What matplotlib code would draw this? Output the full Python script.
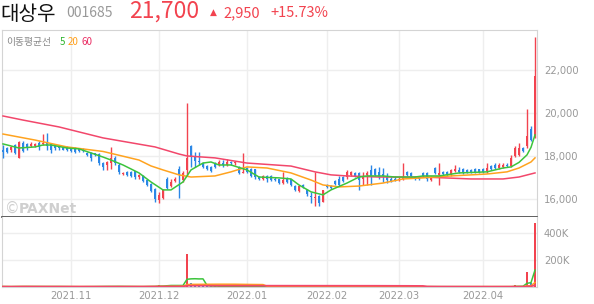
import numpy as np
import pandas as pd
import matplotlib
matplotlib.use("Agg")
import matplotlib.pyplot as plt

# ---- data (daily candles, index 0 .. 133) ----
opens = [18300, 18350, 18300, 18500, 17900, 18600, 18550, 18450, 18450, 18600,
         18550, 18600, 18550, 18450, 18450, 18400, 18400, 18350, 18350, 18350,
         18300, 18150, 18150, 18150, 18100, 17650, 17600, 17650, 17900, 17600,
         17150, 17250, 17250, 17300, 17000, 17050, 16900, 16700, 16450, 15950,
         16050, 16950, 16600, 16850, 17400, 16900, 17350, 18450, 17950, 17750,
         17650, 17550, 17500, 17650, 17600, 17650, 17600, 17700, 17650, 17500,
         17200, 17450, 17400, 17400, 17000, 16950, 17050, 17050, 16950, 16950,
         16750, 16950, 16950, 16600, 16350, 16650, 16400, 16150, 16050, 16150,
         15850, 16650, 16600, 16850, 16950, 17000, 17000, 17100, 17200, 17200,
         16950, 17100, 17350, 17400, 17250, 17150, 17000, 16950, 16950, 16900,
         16950, 17250, 17200, 17000, 17000, 17200, 17200, 16900, 17450, 17100,
         17250, 17250, 17100, 17300, 17350, 17400, 17350, 17350, 17400, 17400,
         17400, 17300, 17550, 17600, 17450, 17500, 17600, 17550, 18000, 18050,
         18350, 18450, 19250, 18900]
highs = [18500, 18400, 18450, 18550, 18700, 18700, 18600, 18650, 18600, 18700,
         19000, 19050, 18600, 18500, 18450, 18450, 18450, 18400, 18400, 18350,
         18350, 18200, 18200, 18150, 18150, 17700, 17750, 18400, 18000, 17650,
         17250, 17300, 17300, 17300, 17150, 17100, 16950, 16750, 16500, 16300,
         16450, 17000, 16950, 17000, 17550, 17300, 20450, 18500, 18200, 18200,
         17700, 17600, 17550, 17700, 17800, 17800, 17850, 17750, 17750, 17550,
         18150, 17500, 17450, 17400, 17050, 17100, 17100, 17100, 17000, 16950,
         17250, 17000, 16950, 16650, 16650, 16700, 16450, 16300, 17250, 16200,
         16400, 16700, 16650, 16900, 17050, 17050, 17350, 17300, 17250, 17250,
         17250, 17300, 17600, 17450, 17500, 17450, 17200, 17000, 17050, 17000,
         17650, 17300, 17250, 17050, 17050, 17250, 17250, 17050, 17500, 17650,
         17300, 17300, 17400, 17600, 17500, 17450, 17400, 17400, 17450, 17400,
         17450, 17650, 17600, 17650, 17650, 17650, 17650, 18050, 18450, 18600,
         18400, 20200, 19400, 23550]
lows = [17900, 18150, 18200, 18100, 17900, 18200, 18300, 18400, 18400, 18300,
        18500, 18300, 18150, 18300, 18300, 18300, 18250, 18200, 18150, 18200,
        18200, 18000, 17750, 18000, 17600, 17350, 17350, 17400, 17600, 17150,
        17100, 17050, 17000, 16950, 16950, 16800, 16600, 16300, 15850, 15800,
        16000, 16450, 16550, 16800, 16050, 16800, 17050, 17500, 17500, 17600,
        17450, 17350, 17250, 17450, 17550, 17500, 17550, 17600, 17600, 17150,
        17200, 17200, 17000, 16950, 16900, 16900, 16800, 16850, 16850, 16700,
        16700, 16750, 16600, 16350, 16300, 16500, 16150, 15800, 15650, 15650,
        15850, 16500, 16450, 16650, 16600, 16800, 16950, 17050, 17000, 16400,
        16650, 16650, 16650, 17050, 16950, 16800, 16750, 16800, 16850, 16850,
        16900, 17050, 17000, 16900, 16900, 17000, 16850, 16850, 17150, 16650,
        17100, 17050, 17050, 17250, 17200, 17150, 17200, 17200, 17200, 17200,
        17200, 17200, 17350, 17400, 17400, 17450, 17500, 17500, 17950, 18000,
        18200, 18350, 18700, 18850]
closes = [18200, 18200, 18400, 18150, 18650, 18250, 18350, 18550, 18550, 18400,
          18600, 18450, 18300, 18350, 18350, 18300, 18300, 18250, 18200, 18250,
          18250, 18050, 17900, 18050, 17650, 17500, 17700, 17900, 17650, 17250,
          17200, 17100, 17050, 17000, 17100, 16850, 16650, 16350, 16000, 16200,
          16400, 16500, 16800, 16950, 17150, 17200, 17900, 17950, 17750, 17700,
          17500, 17400, 17300, 17500, 17700, 17600, 17700, 17650, 17700, 17200,
          17250, 17250, 17050, 17000, 16950, 17050, 16950, 16900, 16900, 16750,
          16900, 16800, 16650, 16400, 16600, 16550, 16250, 16100, 16100, 15800,
          16400, 16550, 16500, 16700, 16650, 16850, 17250, 17250, 17050, 16900,
          17000, 17200, 17000, 17100, 17000, 17050, 16900, 16800, 16900, 16950,
          17000, 17100, 17050, 16950, 16950, 17050, 16950, 17000, 17200, 17200,
          17150, 17100, 17350, 17400, 17250, 17200, 17250, 17250, 17250, 17250,
          17250, 17450, 17400, 17450, 17600, 17600, 17550, 17900, 18350, 18350,
          18250, 18950, 18750, 21700]
volume_k = [3, 2, 3, 4, 5, 3, 2, 2, 2, 3,
            4, 5, 3, 2, 2, 2, 2, 2, 2, 2,
            2, 3, 4, 3, 5, 4, 3, 6, 4, 4,
            2, 2, 3, 3, 2, 3, 4, 5, 6, 15,
            5, 15, 15, 5, 15, 6, 245, 30, 10, 8,
            8, 6, 6, 5, 4, 4, 3, 3, 3, 4,
            5, 3, 3, 4, 2, 2, 2, 2, 2, 3,
            4, 2, 3, 4, 4, 2, 4, 4, 6, 5,
            6, 3, 2, 3, 3, 2, 3, 2, 2, 3,
            2, 2, 3, 2, 2, 2, 2, 2, 2, 2,
            3, 2, 2, 2, 2, 2, 2, 2, 3, 3,
            2, 2, 3, 2, 2, 2, 2, 2, 2, 2,
            2, 3, 2, 2, 2, 2, 2, 3, 12, 6,
            4, 110, 30, 475]

# moving average lines as drawn on the chart (candle index, price)
ma5_idx = [0, 4, 8, 10, 12, 16, 19, 22, 25, 27, 30, 34, 37, 40, 42, 45, 47, 50, 52, 54,
           57, 61, 64, 69, 72, 74, 77, 80, 82, 86, 89, 91, 95, 98, 103, 105, 109, 114,
           121, 125, 127, 129, 131, 132, 133]
ma5_val = [18560, 18370, 18420, 18510, 18510, 18370, 18330, 18140, 17950, 17810, 17580,
           17210, 16790, 16420, 16420, 16790, 17350, 17670, 17720, 17580, 17580, 17350,
           17020, 16980, 16930, 16650, 16330, 16190, 16420, 16740, 17020, 17070, 17070,
           17020, 17020, 17070, 17070, 17210, 17260, 17440, 17490, 17700, 18050, 18400,
           18980]
ma20_idx = [0, 8, 16, 25, 34, 37, 40, 44, 47, 53, 57, 61, 66, 72, 77, 80, 84, 89, 95,
            100, 105, 112, 121, 126, 129, 132, 133]
ma20_val = [19020, 18740, 18420, 18210, 17810, 17535, 17350, 17120, 17020, 17070, 17260,
            17490, 17440, 17210, 16880, 16650, 16560, 16600, 16740, 16930, 16980, 17070,
            17160, 17260, 17440, 17720, 17910]
ma60_idx = [0, 5, 14, 25, 38, 44, 46, 53, 61, 72, 78, 82, 86, 94, 105, 117, 125, 129, 133]
ma60_val = [19860, 19670, 19350, 18840, 18420, 18090, 18000, 17910, 17670, 17530, 17260,
            17120, 17070, 17020, 17020, 16930, 16930, 17020, 17210]

month_idx = [17, 39, 61, 81, 99, 120]
month_labels = ["2021.11", "2021.12", "2022.01", "2022.02", "2022.03", "2022.04"]
price_ticks = [16000, 18000, 20000, 22000]
vol_ticks = [200000, 400000]
vol_tick_labels = ["200K", "400K"]

RED = "#f2434f"
BLUE = "#2b87e6"
GREEN = "#3cc43c"
ORANGE = "#ffa31f"
PINK = "#f2476b"
GRID = "#eeeeee"
LABEL = "#999999"
CJK = ["Noto Sans CJK KR", "DejaVu Sans"]

o = np.array(opens)
h = np.array(highs)
l = np.array(lows)
c = np.array(closes)
vol = pd.Series(volume_k) * 1000
x = np.arange(len(o))
up = c >= o

W, H = 594, 304
fig = plt.figure(figsize=(W / 100, H / 100), dpi=100)
ax = fig.add_axes([2 / W, 1 - 217 / H, 535 / W, 187 / H])
axv = fig.add_axes([2 / W, 1 - 287 / H, 535 / W, 70 / H])

# --- price panel ---
cols = np.where(up, RED, BLUE)
ax.vlines(x, l, h, colors=cols, linewidth=1, zorder=3)
body_lo = np.minimum(o, c)
body_h = np.maximum(np.abs(c - o), 45)
ax.bar(x, body_h, bottom=body_lo, width=0.72, color=cols, linewidth=0, zorder=4)
ax.plot(ma60_idx, ma60_val, color=PINK, lw=1.1, zorder=5)
ax.plot(ma20_idx, ma20_val, color=ORANGE, lw=1.1, zorder=5)
ax.plot(ma5_idx, ma5_val, color=GREEN, lw=1.1, zorder=6)

ax.set_xlim(-0.25, 133.5)
ax.set_ylim(15160, 23860)
ax.set_xticks(month_idx)
ax.set_xticklabels([])
ax.set_yticks(price_ticks)
ax.set_yticklabels([f"{v:,}" for v in price_ticks])
ax.yaxis.tick_right()
ax.tick_params(length=0, labelsize=7.2, labelcolor=LABEL, pad=5)
ax.grid(True, color=GRID, lw=1)
ax.set_axisbelow(True)
for s in ["top", "left", "right"]:
    ax.spines[s].set_color("#d4d4d4")
ax.spines["bottom"].set_color("#444444")
ax.spines["bottom"].set_linewidth(1.2)

# --- volume panel ---
axv.bar(x, vol, width=0.72, color=cols, linewidth=0, zorder=3)
# pink (60) sits on top along the baseline, like the reference
axv.plot(x, vol.rolling(5, min_periods=1).mean(), color=GREEN, lw=1.1, zorder=4)
axv.plot(x, vol.rolling(20, min_periods=1).mean(), color=ORANGE, lw=1.1, zorder=5)
axv.plot(x, vol.rolling(60, min_periods=1).mean(), color=PINK, lw=1.3, zorder=6)
axv.set_xlim(-0.25, 133.5)
axv.set_ylim(0, 518000)
axv.set_yticks(vol_ticks)
axv.set_yticklabels(vol_tick_labels)
axv.yaxis.tick_right()
axv.set_xticks(month_idx)
axv.set_xticklabels(month_labels)
axv.tick_params(length=0, labelsize=7.2, labelcolor=LABEL, pad=5)
axv.tick_params(axis="x", pad=3)
axv.grid(True, color=GRID, lw=1)
axv.set_axisbelow(True)
axv.spines["top"].set_visible(False)
for s in ["left", "right", "bottom"]:
    axv.spines[s].set_color("#d4d4d4")

# --- header ---
fig.text(0 / W, 1 - 20 / H, "대상우", fontsize=14.5, color="#111111", family=CJK)
fig.text(66 / W, 1 - 17 / H, "001685", fontsize=10, color="#999999", family=CJK)
fig.text(129 / W, 1 - 18 / H, "21,700", fontsize=16.5, color=RED, family=CJK)
fig.text(210 / W, 1 - 15 / H, "▲", fontsize=6.5, color=RED, family=["DejaVu Sans"])
fig.text(223 / W, 1 - 17 / H, "2,950", fontsize=10.5, color=RED, family=CJK)
fig.text(270 / W, 1 - 17 / H, "+15.73%", fontsize=10.5, color=RED, family=CJK)

# legend of the moving averages
fig.text(6 / W, 1 - 45 / H, "이동평균선", fontsize=7, color="#888888", family=CJK)
fig.text(60 / W, 1 - 45 / H, "5", fontsize=7, color="#2db52d", family=CJK)
fig.text(68 / W, 1 - 45 / H, "20", fontsize=7, color="#ff9f1a", family=CJK)
fig.text(82 / W, 1 - 45 / H, "60", fontsize=7, color="#ea2d63", family=CJK)

# watermark
fig.text(5 / W, 1 - 213 / H, "©", fontsize=10.5, color="#cfcfcf")
fig.text(19 / W, 1 - 213 / H, "PAXNet", fontsize=10, color="#cfcfcf", fontweight="bold")

fig.savefig("out.png", dpi=100)
